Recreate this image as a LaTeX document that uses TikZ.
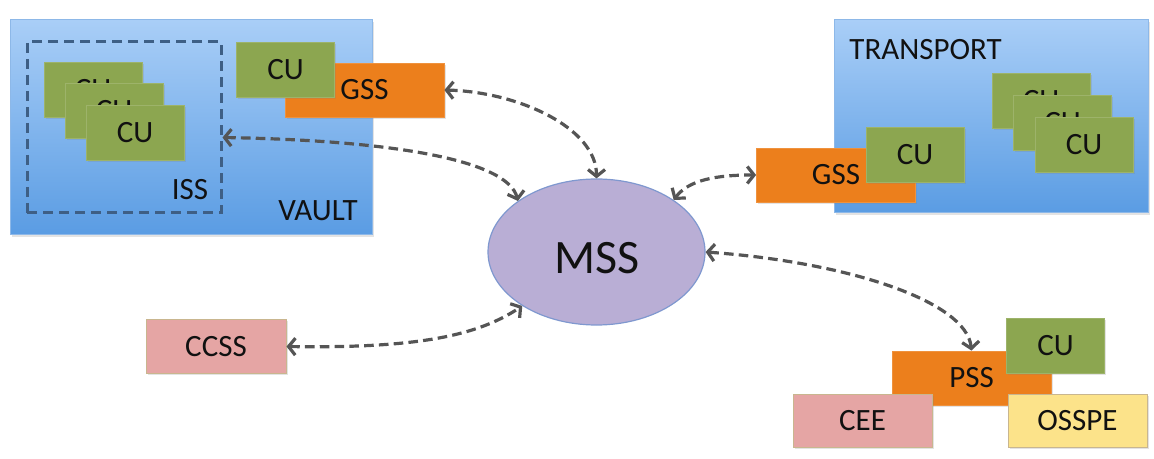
\documentclass[tikz,border=0pt]{standalone}
\usepackage{fontspec}
\setmainfont{Carlito}
\usetikzlibrary{arrows.meta,shapes.geometric,shadows,calc}
\definecolor{cugreen}{HTML}{8CA650}
\definecolor{gssorange}{HTML}{EC7F1C}
\definecolor{pinkbox}{HTML}{E5A5A4}
\definecolor{tanborder}{HTML}{C9B68F}
\definecolor{yellowbox}{HTML}{FCE38A}
\definecolor{bluetop}{HTML}{A9CEF7}
\definecolor{bluebot}{HTML}{5A9CE3}
\definecolor{blueborder}{HTML}{8DB8E8}
\definecolor{mssfill}{HTML}{B9AED5}
\definecolor{mssborder}{HTML}{7F98CF}
\definecolor{linkgray}{HTML}{555555}
\definecolor{issdash}{HTML}{3E5F85}
\definecolor{txt}{HTML}{111111}
\begin{document}
\begin{tikzpicture}[x=0.5pt,y=-0.5pt,
  lbl/.style={font=\fontsize{15.5}{18}\selectfont, text=txt, inner sep=0pt},
  shad/.style={drop shadow={opacity=0.22, shadow xshift=0.8pt, shadow yshift=-0.9pt}},
  box/.style={rectangle, inner sep=0pt, lbl, shad},
  cubox/.style={box, fill=cugreen, draw=cugreen!85!white, line width=0.4pt, minimum width=49pt, minimum height=27.5pt},
  gssbox/.style={box, fill=gssorange, draw=gssorange!85!white, line width=0.4pt, minimum width=79.5pt, minimum height=27pt},
  pinkb/.style={box, fill=pinkbox, draw=tanborder, line width=0.5pt, minimum width=70pt, minimum height=27pt},
  yellowb/.style={box, fill=yellowbox, draw=tanborder, line width=0.5pt, minimum width=70pt, minimum height=27pt},
  container/.style={rectangle, inner sep=0pt, top color=bluetop, bottom color=bluebot, draw=blueborder, line width=0.5pt, shad},
  link/.style={draw=linkgray, line width=1.6pt, dash pattern=on 4.8pt off 2.6pt, {Straight Barb[length=3.4pt,width=8.5pt]}-{Straight Barb[length=3.4pt,width=8.5pt]}}
]
\useasboundingbox (0,0) rectangle (1154,459);

% VAULT
\node[container, minimum width=181pt, minimum height=107.5pt] (vault) at (191,127.5) {};
\node[rectangle, draw=issdash, line width=1.5pt, dash pattern=on 5pt off 3pt, minimum width=97pt, minimum height=85.5pt, inner sep=0pt] (iss) at (124,127.5) {};
\node[cubox] (cua) at (93,90) {CU};
\node[cubox] (cub) at (114,111) {CU};
\node[cubox] (cuc) at (135,132.5) {CU};
\node[lbl] (isslbl) at (190,190) {ISS};
\node[lbl] (vaultlbl) at (318,211) {VAULT};
\node[gssbox] (gss1) at (364.5,90) {GSS};
\node[cubox] (cuv) at (285.5,69.5) {CU};

% TRANSPORT
\node[container, minimum width=157pt, minimum height=96.5pt] (transport) at (991,116.5) {};
\node[lbl, anchor=west] (translbl) at (849,50) {TRANSPORT};
\node[gssbox] (gss2) at (836,175) {GSS};
\node[cubox] (cut) at (915,154.5) {CU};
\node[cubox] (cud) at (1041,100.5) {CU};
\node[cubox] (cue) at (1062.5,122.5) {CU};
\node[cubox] (cuf) at (1084,144.5) {CU};

% MSS
\node[ellipse, fill=mssfill, draw=mssborder, line width=0.6pt, minimum width=108.5pt, minimum height=73pt, inner sep=0pt] (mss) at (596.5,252) {};
\node[font=\fontsize{24}{26}\selectfont, text=txt, inner sep=0pt] (msslbl) at (597,258) {MSS};

% CCSS
\node[pinkb] (ccss) at (216,346.5) {CCSS};

% PSS group
\node[gssbox] (pss) at (971.5,378) {PSS};
\node[cubox] (cup) at (1055.5,346) {CU};
\node[pinkb, minimum width=69.5pt, minimum height=26.5pt] (cee) at (862.5,420.5) {CEE};
\node[yellowb, minimum width=69.5pt, minimum height=26.5pt] (osspe) at (1077.5,420.5) {OSSPE};

% connectors
\coordinate (issR) at ($(iss.east)+(0,10)$);
\draw[link] (gss1.east) .. controls +(75,2) and +(0,-50) .. (mss.north);
\draw[link] (issR) .. controls +(175,3) and +(-10,-40) .. (mss.147);
\draw[link] (mss.34) .. controls +(15,-20) and +(-40,0) .. (gss2.west);
\draw[link] (mss.east) .. controls +(140,10) and +(-5,-50) .. (pss.north);
\draw[link] (ccss.east) .. controls +(130,2) and +(-45,30) .. (mss.216);
\end{tikzpicture}
\end{document}
